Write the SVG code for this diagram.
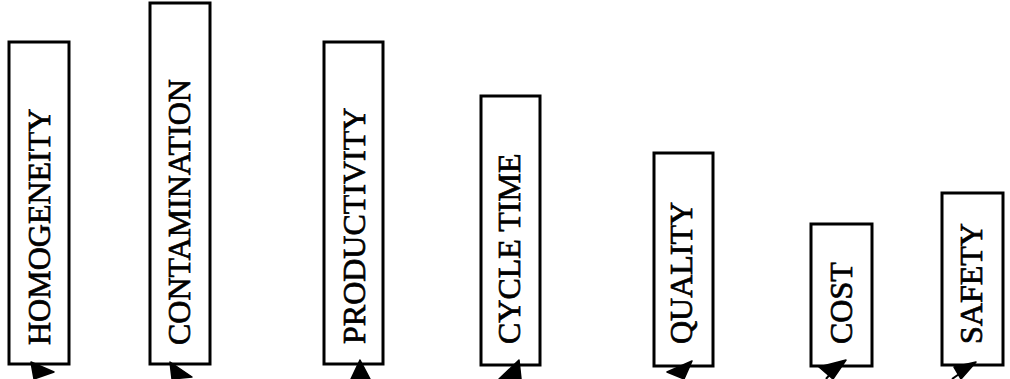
<svg xmlns="http://www.w3.org/2000/svg" width="1010" height="379" viewBox="0 0 1010 379">
  <style>
    .box { fill: #ffffff; stroke: #000000; stroke-width: 3; }
    .lbl { font-family: "Liberation Serif", "Times New Roman", serif; font-size: 32px; fill: #000000; stroke: #000000; stroke-width: 0.7; }
    .head { fill: #000000; stroke: #000000; stroke-width: 1.5; stroke-linejoin: round; }
  </style>
  <rect width="1010" height="379" fill="#ffffff"/>

  <g id="homogeneity">
    <rect class="box" x="9" y="42" width="60" height="322"/>
    <text class="lbl" transform="translate(50,345) rotate(-90)">HOMOGENEITY</text>
  </g>
  <g id="contamination">
    <rect class="box" x="150" y="3" width="60" height="361"/>
    <text class="lbl" transform="translate(190,345) rotate(-90)">CONTAMINATION</text>
  </g>
  <g id="productivity">
    <rect class="box" x="324" y="42" width="59" height="322"/>
    <text class="lbl" transform="translate(365,344) rotate(-90)">PRODUCTIVITY</text>
  </g>
  <g id="cycle-time">
    <rect class="box" x="481" y="96" width="59" height="269"/>
    <text class="lbl" transform="translate(520,344) rotate(-90)">CYCLE TIME</text>
  </g>
  <g id="quality">
    <rect class="box" x="654" y="153" width="59" height="213"/>
    <text class="lbl" transform="translate(692,344) rotate(-90)">QUALITY</text>
  </g>
  <g id="cost">
    <rect class="box" x="811" y="224" width="61" height="142"/>
    <text class="lbl" transform="translate(852,344) rotate(-90)">COST</text>
  </g>
  <g id="safety">
    <rect class="box" x="942" y="193" width="61" height="172"/>
    <text class="lbl" transform="translate(982,344) rotate(-90)">SAFETY</text>
  </g>

  <!-- incoming connector heads along the lower edge -->
  <g id="connectors">
    <polygon class="head" points="31,362 34,379 54,372"/>
    <polygon class="head" points="170,362 172,379 192,377"/>
    <polygon class="head" points="360,360 351,379 370,379"/>
    <polygon class="head" points="519,360 499,379 521,379"/>
    <polygon class="head" points="692,361 667,372 684,379"/>
    <polygon class="head" points="846,360 819,367 833,379"/>
    <line x1="832" y1="372" x2="826" y2="379" stroke="#000" stroke-width="2"/>
    <polygon class="head" points="976,362 954,367 961,379"/>
    <line x1="962" y1="372" x2="952" y2="379" stroke="#000" stroke-width="2"/>
  </g>
</svg>
